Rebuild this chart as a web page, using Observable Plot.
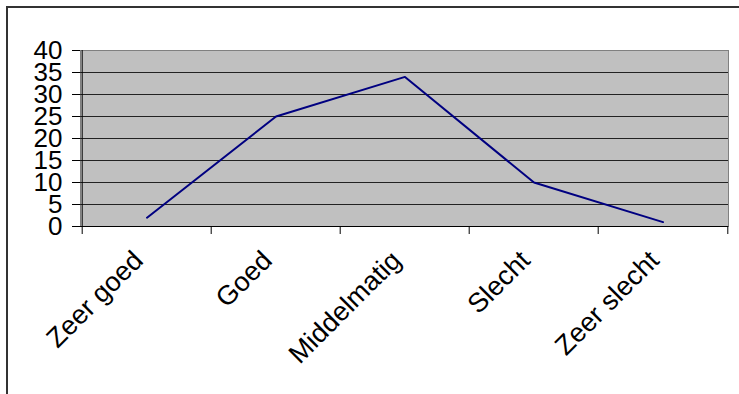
<!DOCTYPE html>
<html>
<head>
<meta charset="utf-8">
<script src="https://cdn.jsdelivr.net/npm/d3@7"></script>
<script src="https://cdn.jsdelivr.net/npm/@observablehq/plot@0.6"></script>
<style>
  html, body { margin: 0; padding: 0; background: #fff; overflow: hidden; }
  #wrap { position: relative; width: 739px; height: 394px; }
  #chart { position: absolute; left: 0; top: 0; }
  /* chart-area border: only its top and left edges fall inside the page */
  #border { position: absolute; left: 6px; top: 6px; width: 800px; height: 500px;
            border: 2px solid #333; box-sizing: border-box; pointer-events: none; }
</style>
</head>
<body>
<div id="wrap"><div id="chart"></div><div id="border"></div></div>
<script>
// Beoordeling: aantal antwoorden per categorie
const categories = ["Zeer goed", "Goed", "Middelmatig", "Slecht", "Zeer slecht"];
const counts = [2, 25, 34, 10, 1];
const yTicks = [0, 5, 10, 15, 20, 25, 30, 35, 40];

const data = categories.map((c, i) => ({rating: c, count: counts[i]}));
const gridValues = yTicks.filter(v => v > 0 && v < 40);

const width = 739, height = 394;
const marginLeft = 80, marginRight = 11, marginTop = 50, marginBottom = 168;
const bw = (width - marginLeft - marginRight) / categories.length;
const font = "'Liberation Sans', Arial, sans-serif";

const chart = Plot.plot({
  width, height, marginLeft, marginRight, marginTop, marginBottom,
  style: {fontFamily: font, fontSize: "26px", color: "#000", background: "transparent"},
  x: {type: "band", domain: categories, padding: 0},
  y: {domain: [0, 40]},
  marks: [
    Plot.frame({fill: "#c0c0c0", stroke: "#808080"}),
    Plot.ruleY(gridValues, {stroke: "#222", strokeWidth: 1}),
    Plot.ruleY([0], {stroke: "#000"}),
    Plot.ruleX([categories[0]], {stroke: "#000", dx: -bw / 2}),
    Plot.axisY({ticks: yTicks, tickSize: 8, tickPadding: 10, fontSize: 26, label: null, stroke: "#000"}),
    Plot.axisX({ticks: categories, tickSize: 8, dx: -bw / 2, text: null, label: null, stroke: "#000"}),
    Plot.axisX({ticks: [categories[categories.length - 1]], tickSize: 8, dx: bw / 2, text: null, label: null, stroke: "#000"}),
    Plot.text(categories, {
      x: d => d, text: d => d, frameAnchor: "bottom",
      rotate: -45, textAnchor: "end", lineAnchor: "top",
      dx: -16, dy: 22, fontSize: 27, fill: "#000"
    }),
    Plot.line(data, {x: "rating", y: "count", stroke: "#000080", strokeWidth: 2})
  ]
});
document.getElementById("chart").appendChild(chart);
</script>
</body>
</html>
